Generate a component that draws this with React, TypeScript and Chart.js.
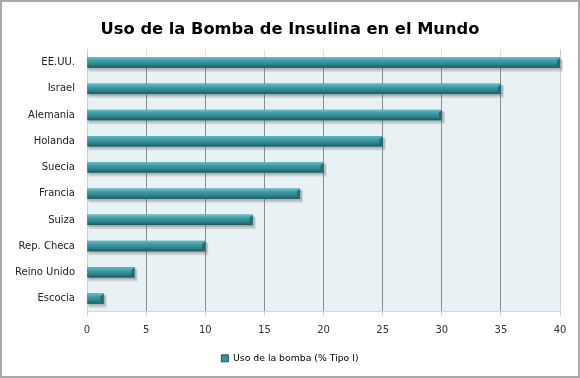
import React, { useEffect, useRef } from "react";
import { Chart, registerables } from "chart.js";

Chart.register(...registerables);

const TITLE = "Uso de la Bomba de Insulina en el Mundo";
const SERIES_LABEL = "Uso de la bomba (% Tipo I)";
const countries = [
  "EE.UU.",
  "Israel",
  "Alemania",
  "Holanda",
  "Suecia",
  "Francia",
  "Suiza",
  "Rep. Checa",
  "Reino Unido",
  "Escocia",
];
const usage = [40, 35, 30, 25, 20, 18, 14, 10, 4, 1.4];
const xTicks = [0, 5, 10, 15, 20, 25, 30, 35, 40];

const FONT = "'DejaVu Sans', Verdana, sans-serif";
const TEAL = "#37909a";

const decorPlugin = {
  id: "decor",
  beforeDraw(chart: any) {
    const { ctx, chartArea } = chart;
    const meta = chart.getDatasetMeta(0);
    const first = meta.data[0] as any;
    if (!first) return;
    const top = first.y - first.height / 2;
    ctx.save();
    ctx.fillStyle = "#e8f1f4";
    ctx.fillRect(chartArea.left, top, chartArea.right - chartArea.left, chartArea.bottom - top);
    ctx.restore();
  },
  beforeDatasetsDraw(chart: any) {
    const { ctx, chartArea } = chart;
    const meta = chart.getDatasetMeta(0);
    const first = meta.data[0] as any;
    if (!first) return;
    const top = first.y - first.height / 2;
    ctx.save();
    ctx.fillStyle = "rgba(255,255,255,0.7)";
    ctx.fillRect(chartArea.left + 1, chartArea.top - 6, chartArea.right - chartArea.left - 1, top - chartArea.top + 6);
    meta.data.forEach((el: any) => {
      const h = el.height;
      const x0 = el.base;
      const x1 = el.x;
      const y0 = el.y - h / 2;
      ctx.fillStyle = "rgba(90,90,90,0.2)";
      ctx.fillRect(x0 + 1, y0 + 2, x1 - x0 + 2, h + 2);
      ctx.fillStyle = "rgba(90,90,90,0.25)";
      ctx.fillRect(x0 + 1, y0 + 1, x1 - x0 + 1, h + 1);
    });
    ctx.restore();
  },
  afterDatasetsDraw(chart: any) {
    const { ctx } = chart;
    const meta = chart.getDatasetMeta(0);
    ctx.save();
    meta.data.forEach((el: any) => {
      const h = el.height;
      const x0 = el.base;
      const x1 = el.x;
      const y0 = el.y - h / 2;
      const g = ctx.createLinearGradient(0, y0, 0, y0 + h);
      g.addColorStop(0, "#6cc6ce");
      g.addColorStop(0.12, "#52b0b9");
      g.addColorStop(0.3, "#3e9ea7");
      g.addColorStop(0.55, "#358d96");
      g.addColorStop(0.8, "#2b7379");
      g.addColorStop(1, "#20575c");
      ctx.fillStyle = g;
      ctx.fillRect(x0, y0, x1 - x0, h);
      const b = Math.min(3, (x1 - x0) / 3);
      ctx.fillStyle = "#276970";
      ctx.beginPath();
      ctx.moveTo(x1 - b, y0 + b);
      ctx.lineTo(x1, y0);
      ctx.lineTo(x1, y0 + h);
      ctx.lineTo(x1 - b, y0 + h - b);
      ctx.closePath();
      ctx.fill();
    });
    ctx.restore();
  },
};

export default function App() {
  const ref = useRef<HTMLCanvasElement | null>(null);
  useEffect(() => {
    document.body.style.margin = "0";
    if (!ref.current) return;
    const chart = new Chart(ref.current, {
      type: "bar",
      data: {
        labels: countries,
        datasets: [
          {
            label: SERIES_LABEL,
            data: usage,
            backgroundColor: TEAL,
            borderWidth: 0,
            barThickness: 10,
          },
        ],
      },
      options: {
        indexAxis: "y",
        responsive: false,
        animation: false,
        layout: { padding: { left: 0, right: 0, top: 0, bottom: 3 } },
        scales: {
          x: {
            type: "linear",
            min: 0,
            max: 40,
            afterBuildTicks: (s: any) => {
              s.ticks = xTicks.map((v) => ({ value: v }));
            },
            afterFit: (s: any) => {
              s.height = 32;
            },
            grid: {
              color: (c: any) =>
                c.index === 0 || c.index === xTicks.length - 1 ? "#cfcfcf" : "#8c8c8c",
              tickColor: "#cfcfcf",
              tickLength: 4,
              lineWidth: 1,
            },
            border: { color: "#d4d4d4" },
            ticks: {
              color: "#3a2f3a",
              font: { family: FONT, size: 10 },
              padding: 9,
              maxRotation: 0,
            },
          },
          y: {
            afterFit: (s: any) => {
              s.width = 85;
            },
            grid: { display: false, drawTicks: false },
            border: { color: "#cfcfcf" },
            ticks: {
              color: "#222",
              font: { family: FONT, size: 10 },
              padding: 12,
            },
          },
          yRight: {
            type: "category",
            position: "right",
            labels: [""],
            afterFit: (s: any) => {
              s.width = 18;
            },
            grid: { display: false, drawTicks: false },
            border: { display: false },
            ticks: { display: false },
          },
        },
        plugins: {
          title: {
            display: true,
            text: TITLE,
            color: "#000",
            font: { family: FONT, size: 16.3, weight: "bold" },
            padding: { top: 18, bottom: 10 },
          },
          legend: {
            position: "bottom",
            labels: {
              color: "#222",
              font: { family: FONT, size: 9.3 },
              boxWidth: 7,
              boxHeight: 7,
              padding: 10,
              generateLabels: () => [
                {
                  text: SERIES_LABEL,
                  fillStyle: TEAL,
                  strokeStyle: "#1f5b60",
                  lineWidth: 1,
                  datasetIndex: 0,
                  hidden: false,
                } as any,
              ],
            },
          },
          tooltip: { enabled: false },
        },
      },
      plugins: [decorPlugin],
    });
    return () => chart.destroy();
  }, []);
  return (
    <div
      style={{
        width: 580,
        height: 378,
        boxSizing: "border-box",
        border: "2px solid #a8a8a8",
        background: "#fff",
      }}
    >
      <canvas ref={ref} width={576} height={374} style={{ display: "block" }} />
    </div>
  );
}
